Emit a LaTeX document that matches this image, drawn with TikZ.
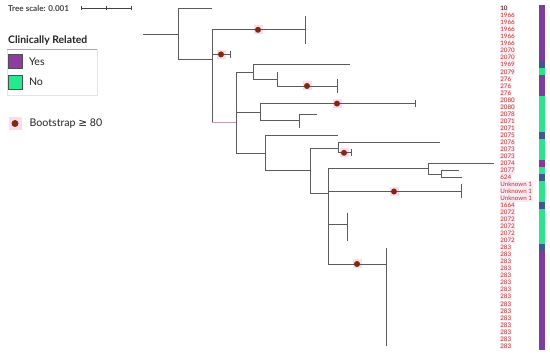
\documentclass[tikz,border=0pt]{standalone}
\usepackage{fontspec}
\setmainfont{Lato}
\newfontfamily\symfont{DejaVu Sans}
\usepackage{tikz}
\usetikzlibrary{positioning}
\definecolor{branchc}{HTML}{5B5B5B}
\definecolor{bootc}{HTML}{7E2A0E}
\definecolor{haloc}{HTML}{FADCEE}
\definecolor{tipc}{HTML}{A93A2D}
\definecolor{tipbg}{HTML}{FDE9F3}
\definecolor{hilitec}{HTML}{C99AB6}
\definecolor{cellP}{HTML}{7E3D9A}
\definecolor{cellG}{HTML}{2FE38E}
\definecolor{cellB}{HTML}{3E5894}
\definecolor{yesc}{HTML}{8D3C9F}
\definecolor{noc}{HTML}{24E98F}
\definecolor{swatchc}{HTML}{4F4F4F}
\definecolor{legc}{HTML}{222222}
\definecolor{scalec}{HTML}{444444}
\definecolor{framec}{HTML}{E4E4E4}
\definecolor{rulec}{HTML}{A8A8A8}

\begin{document}
\begin{tikzpicture}[x=1pt,y=-1pt,
  br/.style={draw=branchc,line width=0.85pt},
  boot/.style={circle,fill=bootc,inner sep=0pt,minimum size=6pt},
  halo/.style={fill=haloc,inner sep=0pt,minimum size=9pt},
  tiplbl/.style={anchor=west,font=\fontsize{6.2}{6}\selectfont,text=tipc,fill=tipbg,
                 inner sep=0.7pt,text height=4.5pt,text depth=0.4pt},
  swatch/.style={draw=swatchc,line width=0.5pt,minimum size=13.5pt,inner sep=0pt},
  legtxt/.style={font=\fontsize{10.6}{12}\selectfont,text=legc,inner sep=0pt}
]
\useasboundingbox (0,0) rectangle (550,355);

% scale and legend
\node[anchor=west,inner sep=0pt,font=\bfseries\fontsize{8.1}{9}\selectfont,text=scalec] (scaletxt) at (8,8.6) {Tree scale: 0.001};
\coordinate (sb0) at (81,8.3);
\coordinate (sbm) at (106,8.3);
\coordinate (sb1) at (131,8.3);
\draw[draw=scalec,line width=0.6pt] (sb0) -- (sb1);
\foreach \s in {sb0,sbm,sb1} \draw[draw=scalec,line width=0.6pt] ([yshift=-2pt]\s) -- ([yshift=2pt]\s);

\draw[draw=framec,line width=0.6pt] (7,49.5) rectangle (97,95);
\draw[draw=rulec,line width=0.6pt] (7,49.5) -- (97,49.5);
\node[anchor=west,inner sep=0pt,font=\bfseries\fontsize{10.4}{12}\selectfont,text=legc] (legtitle) at (8,40.5) {Clinically Related};
\node[swatch,fill=yesc] (yesbox) at (15.3,61.3) {};
\node[swatch,fill=noc] (nobox) at (15.3,82.2) {};
\node[legtxt,right=6.5pt of yesbox] (yestxt) {Yes};
\node[legtxt,right=6.5pt of nobox] (notxt) {No};
\node[halo,minimum size=13pt] (bkhalo) at (15,123.5) {};
\node[boot,minimum size=7pt] (bkdot) at (15,123.5) {};
\node[legtxt,anchor=west] (bktxt) at (29.5,123.5) {Bootstrap {\symfont ≥} 80};

% tree
\coordinate (root) at (143,34);
\coordinate (n0) at (178,34);
\coordinate (t10) at (212,8.7);
\coordinate (n1) at (212,59);
\coordinate (c1966) at (305,29.8);
\coordinate (c2070) at (230,54.4);
\coordinate (n2) at (236,122);
\coordinate (n3) at (253,72);
\coordinate (t1969) at (350,64.9);
\coordinate (n4) at (277,79);
\coordinate (t2079) at (277,72);
\coordinate (c276) at (337,86);
\coordinate (n6) at (260,112);
\coordinate (c2080) at (415,103.6);
\coordinate (n7) at (299,120);
\coordinate (t2078) at (317,114.2);
\coordinate (c2071) at (299,128.2);
\coordinate (n8) at (265,153);
\coordinate (t2075) at (338,135.2);
\coordinate (n9) at (310,170);
\coordinate (n10) at (338,148);
\coordinate (t2076) at (440,142.3);
\coordinate (c2073) at (351,152.8);
\coordinate (n11) at (328,193);
\coordinate (n12) at (428,168);
\coordinate (t2074) at (494,163.4);
\coordinate (n13) at (441,174.3);
\coordinate (t2077) at (459,170.4);
\coordinate (t624) at (462,177.4);
\coordinate (cunk) at (461,191.5);
\coordinate (t1664) at (328,205.5);
\coordinate (c2072) at (347,224.3);
\coordinate (c283) at (386,264);

\foreach \p in {(258,29.8),(221,54.4),(307,86),(337,103.6),(344,152.8),(394,191.5),(357,264)}
  \node[halo] at \p {};

\draw[br] (root) -- (n0);
\draw[br] (n0) |- (t10);
\draw[br] (n0) |- (n1);
\draw[br] (n1) |- (c1966);
\draw[br] (n1) |- (c2070);
\draw[br] (n1) |- (n2);
\draw[draw=hilitec,line width=0.85pt] (n1 |- n2) -- (n2);
\draw[br] (n2) |- (n3);
\draw[br] (n3) |- (t1969);
\draw[br] (n3) |- (n4);
\draw[br] (n4) |- (t2079);
\draw[br] (n4) |- (c276);
\draw[br] (n2) |- (n6);
\draw[br] (n6) |- (c2080);
\draw[br] (n6) |- (n7);
\draw[br] (n7) |- (t2078);
\draw[br] (n7) |- (c2071);
\draw[br] (n2) |- (n8);
\draw[br] (n8) |- (t2075);
\draw[br] (n8) |- (n9);
\draw[br] (n9) |- (n10);
\draw[br] (n10) |- (t2076);
\draw[br] (n10) |- (c2073);
\draw[br] (n9) |- (n11);
\draw[br] (n11) |- (n12);
\draw[br] (n12) |- (t2074);
\draw[br] (n12) |- (n13);
\draw[br] (n13) |- (t2077);
\draw[br] (n13) |- (t624);
\draw[br] (n11) |- (cunk);
\draw[br] (n11) |- (t1664);
\draw[br] (n11) |- (c2072);
\draw[br] (n11) |- (c283);

% collapsed clades
\foreach \c/\a/\b in {c1966/15.7/43.9,c2070/50.9/57.9,c276/79/93.1,c2080/100.1/107.1,
    c2071/121.2/128.2,c2073/149.3/156.3,cunk/184.5/198.5,c2072/212.6/240.7,c283/247.7/346.1}
  \draw[br] (\c |- 0,\a) -- (\c |- 0,\b);

\foreach \p [count=\k] in {(258,29.8),(221,54.4),(307,86),(337,103.6),(344,152.8),(394,191.5),(357,264)}
  \node[boot] (b\k) at \p {};

% tips and strip
\foreach \lab [count=\i, evaluate=\i as \yy using 8.7+7.03*(\i-1)] in
  {10,1966,1966,1966,1966,1966,2070,2070,1969,2079,276,276,276,2080,2080,2078,2071,2071,
   2075,2076,2073,2073,2074,2077,624,Unknown 1,Unknown 1,Unknown 1,1664,2072,2072,2072,2072,2072,
   283,283,283,283,283,283,283,283,283,283,283,283,283,283,283}
  \node[tiplbl] (tip\i) at (499.5,\yy) {\ifnum\i=1 \textcolor{black}{\lab}\else\lab\fi};

\foreach \c [count=\i, evaluate=\i as \yy using 8.7+7.03*(\i-1)] in
  {P,P,P,P,P,P,P,P,B,G,P,P,P,G,G,G,G,G,B,G,G,G,P,G,B,G,G,G,B,G,G,G,G,G,
   B,P,P,P,P,P,P,P,P,P,P,P,P,P,P}
  \fill[cell\c] (539,\yy-3.6) rectangle (545,\yy+3.6);
\end{tikzpicture}
\end{document}
